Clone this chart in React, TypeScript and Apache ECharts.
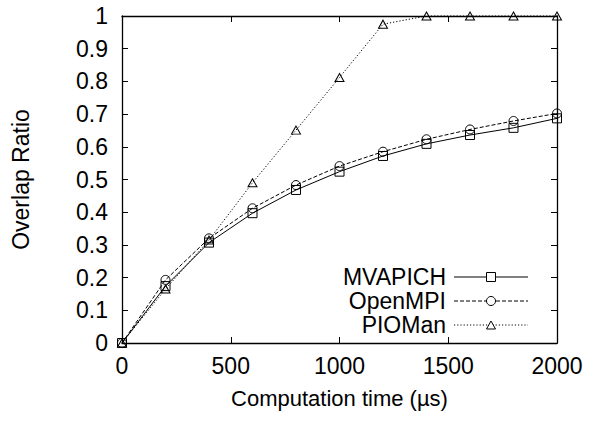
import React, { useEffect, useRef } from "react";
import * as echarts from "echarts";

const xValues = [0, 200, 400, 600, 800, 1000, 1200, 1400, 1600, 1800, 2000];
const mvapich = [0, 0.174, 0.307, 0.397, 0.468, 0.524, 0.572, 0.609, 0.636, 0.658, 0.687];
const openmpi = [0, 0.193, 0.32, 0.412, 0.483, 0.541, 0.585, 0.623, 0.653, 0.679, 0.702];
const pioman = [0, 0.165, 0.315, 0.49, 0.651, 0.812, 0.975, 1, 1, 1, 1];

const seriesNames = ["MVAPICH", "OpenMPI", "PIOMan"];
const xTitle = "Computation time (µs)";
const yTitle = "Overlap Ratio";

const FONT = "'Liberation Sans', Arial, Helvetica, sans-serif";

export default function App() {
  const ref = useRef<HTMLDivElement>(null);
  useEffect(() => {
    if (!ref.current) return;
    const chart = echarts.init(ref.current, undefined, { renderer: "svg" });
    const pts = (ys: number[]) => xValues.map((x, i) => [x, ys[i]]);
    const tickStyle = { show: true, inside: true, length: 6, lineStyle: { color: "#000", width: 1 } };
    const axisLine = { show: true, onZero: false, lineStyle: { color: "#000", width: 1.3 } };
    const label = { color: "#000", fontSize: 23, fontFamily: FONT, formatter: (v: number) => String(v) };
    const mkSeries = (name: string, ys: number[], symbol: string, type: any) => ({
      name,
      type: "line",
      data: pts(ys),
      symbol,
      symbolSize: symbol === "triangle" ? [9, 8] : 9,
      clip: false,
      lineStyle: { color: "#000", width: 1, type },
      itemStyle: { color: "rgba(255,255,255,0)", borderColor: "#000", borderWidth: 1 },
    });
    const lx1 = 454, lx2 = 528, lmx = 491, ltx = 446;
    const rows = [277, 301, 325];
    const legendGraphics: any[] = [];
    const dashTypes: any[] = [null, [4, 2], [1.2, 2]];
    rows.forEach((y, i) => {
      legendGraphics.push({
        type: "text",
        x: ltx,
        y,
        style: { text: seriesNames[i], fill: "#000", font: `23px ${FONT}`, align: "right", verticalAlign: "middle" },
      });
      legendGraphics.push({
        type: "line",
        shape: { x1: lx1, y1: y, x2: lx2, y2: y },
        style: { stroke: "#000", lineWidth: 1, lineDash: dashTypes[i] },
      });
      if (i === 0) {
        legendGraphics.push({ type: "rect", shape: { x: lmx - 4.5, y: y - 4.5, width: 9, height: 9 }, style: { fill: "#fff", stroke: "#000", lineWidth: 1 } });
      } else if (i === 1) {
        legendGraphics.push({ type: "circle", shape: { cx: lmx, cy: y, r: 4.5 }, style: { fill: "#fff", stroke: "#000", lineWidth: 1 } });
      } else {
        legendGraphics.push({ type: "polygon", shape: { points: [[lmx, y - 4], [lmx + 4.5, y + 4], [lmx - 4.5, y + 4]] }, style: { fill: "#fff", stroke: "#000", lineWidth: 1 } });
      }
    });
    chart.setOption({
      animation: false,
      backgroundColor: "#fff",
      grid: { left: 122, right: 41, top: 16, bottom: 78 },
      xAxis: [
        {
          type: "value", min: 0, max: 2000, interval: 500,
          axisLine, axisTick: tickStyle, splitLine: { show: false },
          axisLabel: { ...label, margin: 11 },
          name: xTitle, nameLocation: "middle", nameGap: 44,
          nameTextStyle: { color: "#000", fontSize: 22, fontFamily: FONT },
        },
        {
          type: "value", position: "top", min: 0, max: 2000, interval: 500,
          axisLine, axisTick: tickStyle, splitLine: { show: false }, axisLabel: { show: false },
        },
      ],
      yAxis: [
        {
          type: "value", min: 0, max: 1, interval: 0.1,
          axisLine, axisTick: tickStyle, splitLine: { show: false },
          axisLabel: { ...label, margin: 14 },
          name: yTitle, nameLocation: "middle", nameGap: 90,
          nameTextStyle: { color: "#000", fontSize: 23, fontFamily: FONT },
        },
        {
          type: "value", position: "right", min: 0, max: 1, interval: 0.1,
          axisLine, axisTick: tickStyle, splitLine: { show: false }, axisLabel: { show: false },
        },
      ],
      series: [
        mkSeries(seriesNames[0], mvapich, "rect", "solid"),
        mkSeries(seriesNames[1], openmpi, "circle", [4, 2]),
        mkSeries(seriesNames[2], pioman, "triangle", [1.2, 2]),
      ],
      graphic: legendGraphics,
    });
    return () => chart.dispose();
  }, []);
  return <div ref={ref} style={{ width: 598, height: 421, position: "absolute", left: 0, top: 0 }} />;
}
